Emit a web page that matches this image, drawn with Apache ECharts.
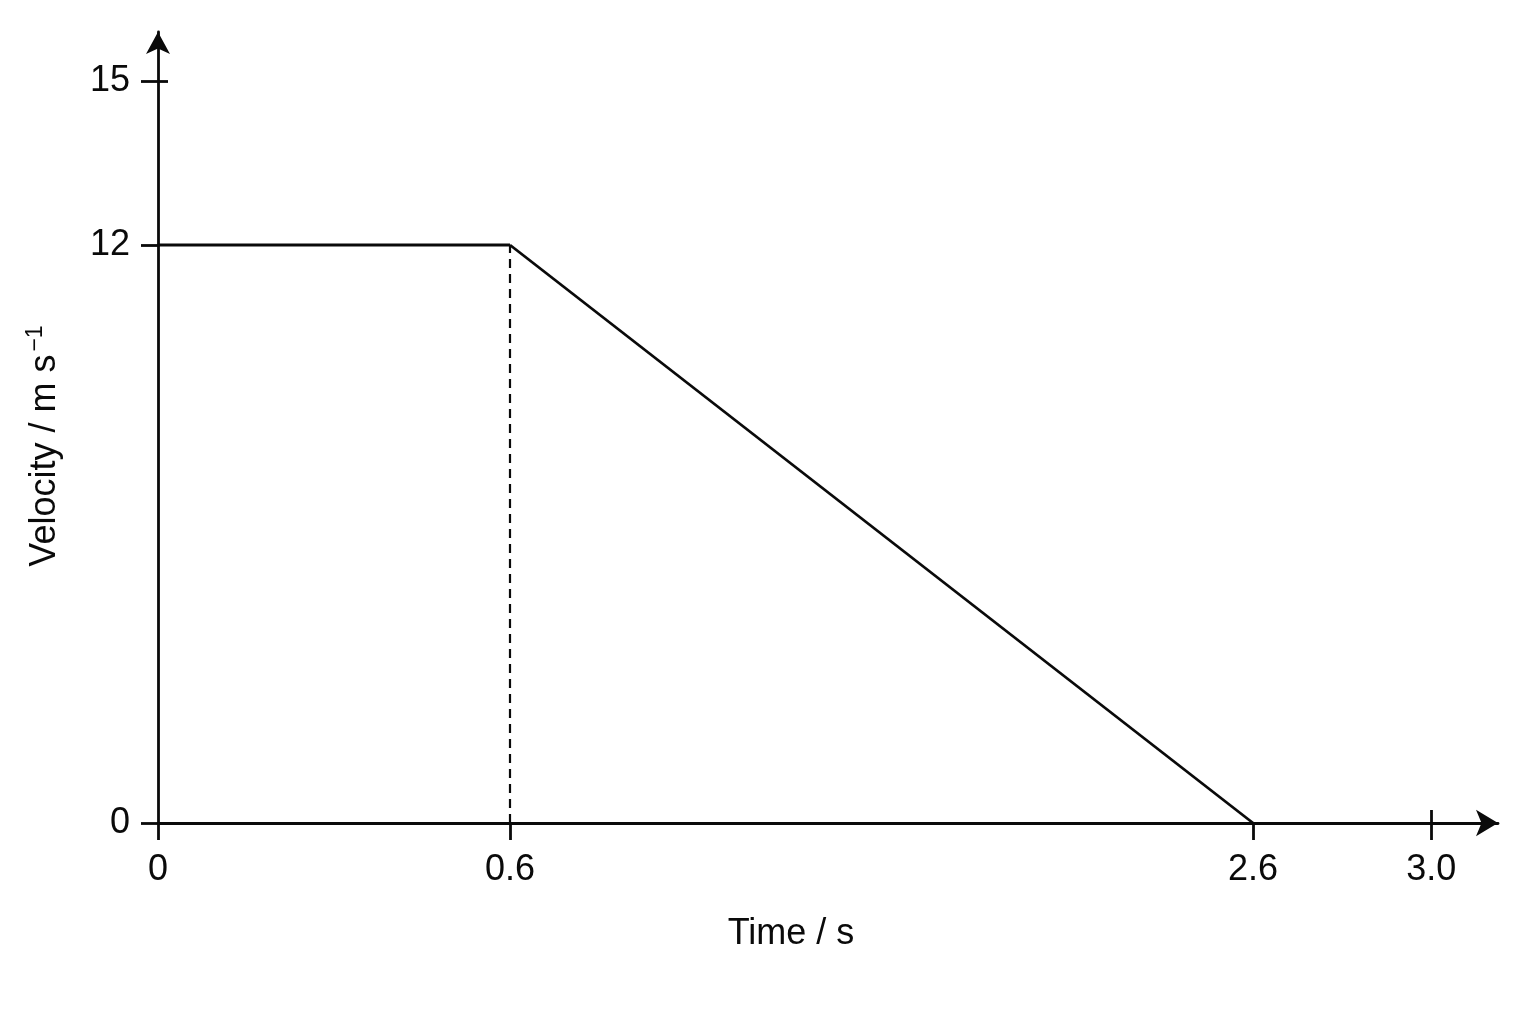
<!DOCTYPE html>
<html>
<head>
<meta charset="utf-8">
<script src="https://cdn.jsdelivr.net/npm/echarts@6/dist/echarts.min.js"></script>
<style>
html,body{margin:0;padding:0;background:#fff;}
#chart{width:1536px;height:1024px;}
</style>
</head>
<body>
<div id="chart"></div>
<script>
// ---- data ----
const timeValues = [0, 0.6, 2.6];          // s
const velocityValues = [12, 12, 0];        // m/s
const xTickValues = [0, 0.6, 2.6, 3.0];
const yTickValues = [0, 12, 15];
const xTitle = 'Time / s';
const yTitleMain = 'Velocity / m s';
const yTitleSup = '\u22121';

// ---- the sketch is not drawn to scale: piecewise segments of the axes ----
const xSegments = [[0, 0.6], [0.6, 2.6], [2.6, 3.15]];
const ySegments = [[0, 12], [12, 15.9]];

const FONT = '"Liberation Sans", Arial, Helvetica, sans-serif';
const INK = '#0a0a0a';
const AXW = 2.8;
const TICKLEN = 17;
const LABEL_SIZE = 36;

function fmtX(v){ return v === 0 ? '0' : v.toFixed(1); }
function inSeg(v, seg){ return v >= seg[0] - 1e-9 && v <= seg[1] + 1e-9; }

const grids = [
  {left:158, width:352, top:245, height:578},   // x 0-0.6, y 0-12
  {left:510, width:743, top:245, height:578},   // x 0.6-2.6
  {left:1253, width:245, top:245, height:578},  // x 2.6-3.15
  {left:158, width:352, top:32, height:213}     // y 12-15.9 (upper part of y axis)
];

const xAxes = [];
const yAxes = [];
for (let g = 0; g < 3; g++) {
  const seg = xSegments[g];
  let ticks = xTickValues.filter(v => inSeg(v, seg));
  if (g > 0) ticks = ticks.filter(v => v > seg[0] + 1e-9);
  xAxes.push({
    gridIndex: g, type: 'value', position: 'bottom', min: seg[0], max: seg[1],
    axisLine: {show: true, onZero: false, lineStyle: {color: INK, width: AXW},
      symbol: g === 2 ? ['none', 'arrow'] : ['none', 'none'], symbolSize: [20, 22], symbolOffset: [0, 0]},
    axisTick: {show: true, length: TICKLEN, lineStyle: {color: INK, width: AXW}, customValues: ticks},
    axisLabel: {show: true, customValues: ticks, formatter: fmtX, margin: 29,
      color: INK, fontSize: LABEL_SIZE, fontFamily: FONT},
    splitLine: {show: false}
  });
  const yTicks = yTickValues.filter(v => inSeg(v, ySegments[0]));
  yAxes.push({
    gridIndex: g, type: 'value', position: 'left', min: ySegments[0][0], max: ySegments[0][1],
    show: g === 0,
    axisLine: {show: true, onZero: false, lineStyle: {color: INK, width: AXW}},
    axisTick: {show: true, length: TICKLEN, lineStyle: {color: INK, width: AXW}, customValues: yTicks},
    axisLabel: {show: true, customValues: yTicks, margin: 28, color: INK, fontSize: LABEL_SIZE, fontFamily: FONT},
    splitLine: {show: false}
  });
}
// inward half of the tick at 3.0 (tick crosses the axis)
xAxes.push({
  gridIndex: 2, type: 'value', position: 'bottom', min: xSegments[2][0], max: xSegments[2][1],
  axisLine: {show: false, onZero: false},
  axisTick: {show: true, inside: true, length: 13, lineStyle: {color: INK, width: AXW},
    customValues: xTickValues.filter(v => v > xSegments[2][0] + 1e-9 && inSeg(v, xSegments[2]))},
  axisLabel: {show: false}, splitLine: {show: false}
});
// upper grid: hidden x, y with arrow
xAxes.push({gridIndex: 3, type: 'value', position: 'bottom', min: xSegments[0][0], max: xSegments[0][1], show: false});
const upperTicks = yTickValues.filter(v => v > ySegments[1][0] + 1e-9 && inSeg(v, ySegments[1]));
yAxes.push({
  gridIndex: 3, type: 'value', position: 'left', min: ySegments[1][0], max: ySegments[1][1],
  axisLine: {show: true, onZero: false, lineStyle: {color: INK, width: AXW},
    symbol: ['none', 'arrow'], symbolSize: [18, 22], symbolOffset: [0, 0]},
  axisTick: {show: true, length: TICKLEN, lineStyle: {color: INK, width: AXW}, customValues: upperTicks},
  axisLabel: {show: true, customValues: upperTicks, margin: 28, color: INK, fontSize: LABEL_SIZE, fontFamily: FONT},
  splitLine: {show: false}
});
yAxes.push({
  gridIndex: 3, type: 'value', position: 'left', min: ySegments[1][0], max: ySegments[1][1],
  axisLine: {show: false, onZero: false},
  axisTick: {show: true, inside: true, length: 10, lineStyle: {color: INK, width: AXW}, customValues: upperTicks},
  axisLabel: {show: false}, splitLine: {show: false}
});

// ---- series: split the velocity-time polyline into the time segments ----
const series = [];
for (let g = 0; g < 3; g++) {
  const seg = xSegments[g];
  const pts = [];
  for (let i = 0; i < timeValues.length; i++) {
    if (inSeg(timeValues[i], seg)) pts.push([timeValues[i], velocityValues[i]]);
  }
  if (pts.length >= 2) {
    series.push({
      type: 'line', xAxisIndex: g, yAxisIndex: g, data: pts, clip: false,
      symbol: 'none', lineStyle: {color: INK, width: 2.8}, animation: false, z: 3
    });
  }
}
// dashed drop line at the end of the constant-velocity phase
series.push({
  type: 'line', xAxisIndex: 1, yAxisIndex: 1, clip: false, symbol: 'none', animation: false,
  data: [[timeValues[1], 0], [timeValues[1], velocityValues[1]]],
  lineStyle: {color: INK, width: 2.2, type: [9, 6]}, z: 2
});

const chart = echarts.init(document.getElementById('chart'), null, {renderer: 'canvas'});
chart.setOption({
  backgroundColor: '#ffffff',
  animation: false,
  grid: grids,
  xAxis: xAxes,
  yAxis: yAxes,
  series: series,
  graphic: [
    {type: 'text', x: 791, y: 934, z: 10,
      style: {text: xTitle, fill: INK, font: '36px ' + FONT, align: 'center', verticalAlign: 'middle'}},
    {type: 'text', x: 45, y: 446, rotation: Math.PI / 2, z: 10,
      style: {text: '{a|' + yTitleMain + '}{b|' + yTitleSup + '}', align: 'center', verticalAlign: 'middle',
        rich: {
          a: {fontSize: 36, fontFamily: FONT, fill: INK, color: INK, lineHeight: 42},
          b: {fontSize: 23, fontFamily: FONT, fill: INK, color: INK, verticalAlign: 'top', lineHeight: 26, padding: [0, 0, 0, 3]}
        }}}
  ]
});
</script>
</body>
</html>
